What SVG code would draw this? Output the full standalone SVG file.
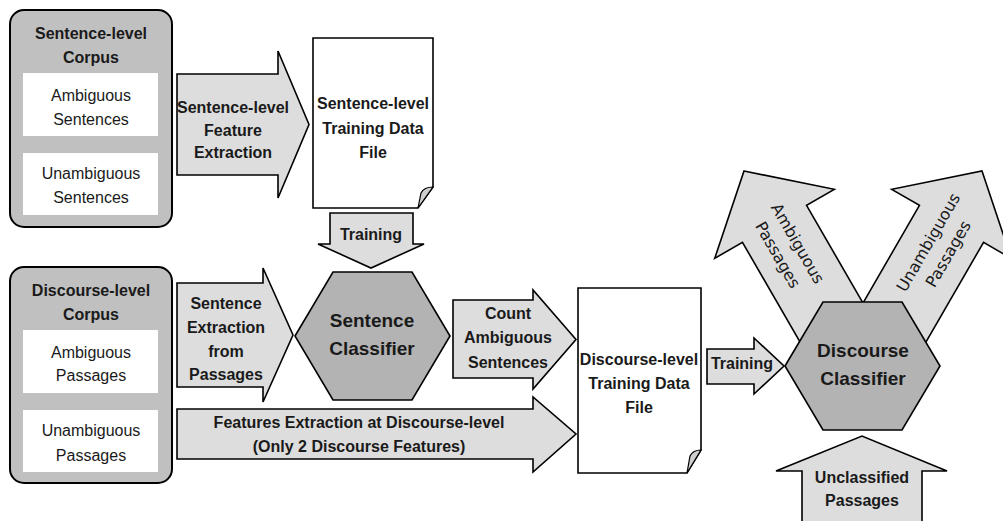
<svg xmlns="http://www.w3.org/2000/svg" width="1003" height="521" viewBox="0 0 1003 521">
  <style>
    .arrow { fill: #dddddd; stroke: #000; stroke-width: 1.6; stroke-linejoin: miter; }
    .corpus { fill: #c0c0c0; stroke: #000; stroke-width: 2; }
    .inner { fill: #ffffff; }
    .hex { fill: #b3b3b3; stroke: #000; stroke-width: 1.6; stroke-linejoin: miter; }
    .doc { fill: #ffffff; stroke: #000; stroke-width: 1.6; stroke-linejoin: miter; }
    .fold { fill: #cfcfcf; stroke: #000; stroke-width: 1.2; }
    text { font-family: "Liberation Sans", Arial, sans-serif; font-size: 16px; text-anchor: middle; fill: #1a1a1a; }
    .b { font-weight: bold; }
    .h { font-weight: bold; font-size: 19px; }
    .rot { font-family: "DejaVu Sans", Verdana, sans-serif; font-size: 16px; }
  </style>
  <rect width="1003" height="521" fill="#ffffff"/>

  <!-- block arrows (drawn first so the classifiers sit on top of them) -->
  <g id="connectors">
    <g id="arrow-sentence-feature-extraction">
      <path class="arrow" d="M177,74 L278,74 L278,51 L309,124.5 L278,198 L278,175 L177,175 Z"/>
      <text class="b" x="233" y="113">Sentence-level</text>
      <text class="b" x="233" y="136">Feature</text>
      <text class="b" x="233" y="158">Extraction</text>
    </g>
    <g id="arrow-training-sentence">
      <path class="arrow" d="M330,213 L413,213 L413,244 L424,244 L371,268 L318,244 L330,244 Z"/>
      <text class="b" x="371" y="240">Training</text>
    </g>
    <g id="arrow-sentence-extraction">
      <path class="arrow" d="M177,283 L263,283 L263,268 L293,335 L263,402 L263,387 L177,387 Z"/>
      <text class="b" x="226" y="309">Sentence</text>
      <text class="b" x="226" y="333">Extraction</text>
      <text class="b" x="226" y="357">from</text>
      <text class="b" x="226" y="380">Passages</text>
    </g>
    <g id="arrow-count-ambiguous">
      <path class="arrow" d="M453,300 L533,300 L533,290 L576,339.5 L533,389 L533,378 L453,378 Z"/>
      <text class="b" x="508" y="319">Count</text>
      <text class="b" x="508" y="343">Ambiguous</text>
      <text class="b" x="508" y="368">Sentences</text>
    </g>
    <g id="arrow-discourse-features">
      <path class="arrow" d="M177,409 L533,409 L533,397 L576,434 L533,472 L533,459 L177,459 Z"/>
      <text class="b" x="359" y="428">Features Extraction at Discourse-level</text>
      <text class="b" x="359" y="452">(Only 2 Discourse Features)</text>
    </g>
    <g id="arrow-training-discourse">
      <path class="arrow" d="M707,349 L754,349 L754,338 L784,366 L754,394 L754,384 L707,384 Z"/>
      <text class="b" x="742" y="369">Training</text>
    </g>
    <g id="arrow-ambiguous-passages">
      <path class="arrow" transform="translate(744,171) rotate(-30)" d="M0,0 L69,61 L37,61 L37,200 L-37,200 L-37,61 L-69,61 Z"/>
      <g transform="translate(788,249) rotate(60)">
        <text class="rot" x="0" y="-5.7">Ambiguous</text>
        <text class="rot" x="0" y="17.3">Passages</text>
      </g>
    </g>
    <g id="arrow-unambiguous-passages">
      <path class="arrow" transform="translate(982,171) rotate(30)" d="M0,0 L69,61 L37,61 L37,200 L-37,200 L-37,61 L-69,61 Z"/>
      <g transform="translate(938,248) rotate(-60)">
        <text class="rot" x="0" y="-5.7">Unambiguous</text>
        <text class="rot" x="0" y="17.3">Passages</text>
      </g>
    </g>
    <g id="arrow-unclassified">
      <path class="arrow" d="M802,524 L802,471 L776,471 L862,436 L947,471 L922,471 L922,524 Z"/>
      <text class="b" x="862" y="483">Unclassified</text>
      <text class="b" x="862" y="506">Passages</text>
    </g>
  </g>

  <!-- corpora -->
  <g id="sentence-corpus">
    <rect class="corpus" x="10" y="10" width="162" height="217" rx="14"/>
    <text class="b" x="91" y="39">Sentence-level</text>
    <text class="b" x="91" y="63">Corpus</text>
    <rect class="inner" x="23" y="73" width="135" height="63"/>
    <text x="91" y="101">Ambiguous</text>
    <text x="91" y="125">Sentences</text>
    <rect class="inner" x="23" y="153" width="135" height="62"/>
    <text x="91" y="179">Unambiguous</text>
    <text x="91" y="203">Sentences</text>
  </g>

  <g id="discourse-corpus">
    <rect class="corpus" x="10" y="267" width="162" height="216" rx="14"/>
    <text class="b" x="91" y="296">Discourse-level</text>
    <text class="b" x="91" y="320">Corpus</text>
    <rect class="inner" x="23" y="330" width="135" height="63"/>
    <text x="91" y="358">Ambiguous</text>
    <text x="91" y="381">Passages</text>
    <rect class="inner" x="23" y="410" width="135" height="62"/>
    <text x="91" y="436">Unambiguous</text>
    <text x="91" y="461">Passages</text>
  </g>

  <!-- training data files -->
  <g id="sentence-training-file">
    <path class="doc" d="M313,38 L433,38 L433,187 L418,208 L313,208 Z"/>
    <path class="fold" d="M433,187 C428,187 423,189 421,193 L418,208 Z"/>
    <text class="b" x="373" y="109">Sentence-level</text>
    <text class="b" x="373" y="134">Training Data</text>
    <text class="b" x="373" y="158">File</text>
  </g>

  <g id="discourse-training-file">
    <path class="doc" d="M578,288 L701,288 L701,450 L687,473 L578,473 Z"/>
    <path class="fold" d="M701,450 C696,450 692,452 690,456 L687,473 Z"/>
    <text class="b" x="639" y="365">Discourse-level</text>
    <text class="b" x="639" y="389">Training Data</text>
    <text class="b" x="639" y="413">File</text>
  </g>

  <!-- classifiers -->
  <g id="sentence-classifier">
    <path class="hex" d="M295,336 L333,272 L412,272 L450,336 L412,400 L333,400 Z"/>
    <text class="h" x="372" y="327">Sentence</text>
    <text class="h" x="372" y="355">Classifier</text>
  </g>

  <g id="discourse-classifier">
    <path class="hex" d="M785,366 L823,302 L902,302 L940,366 L902,430 L823,430 Z"/>
    <text class="h" x="863" y="357">Discourse</text>
    <text class="h" x="863" y="385">Classifier</text>
  </g>
</svg>
